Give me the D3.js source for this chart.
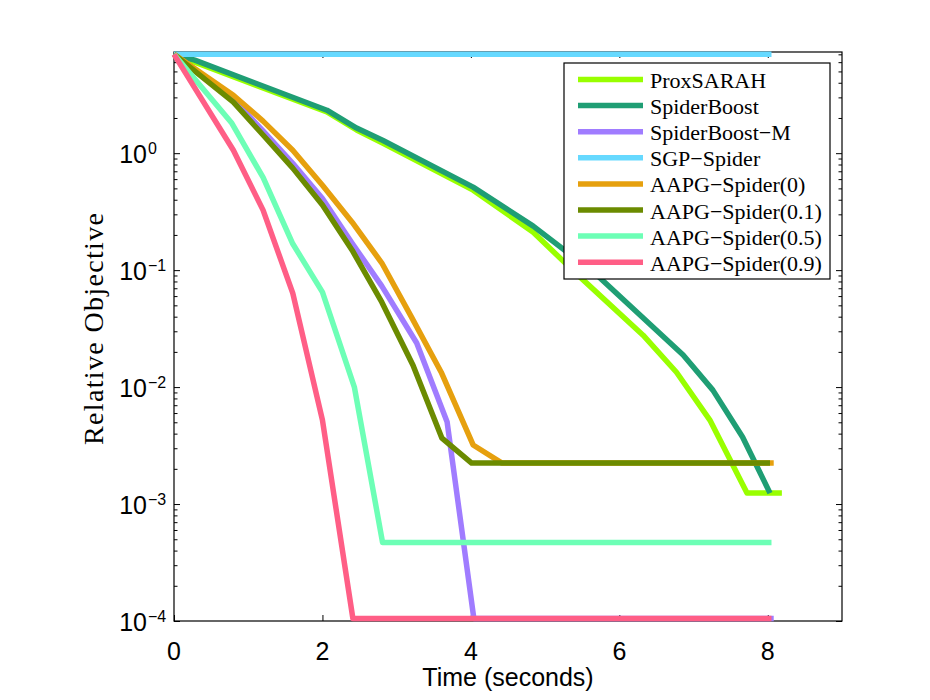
<!DOCTYPE html>
<html>
<head>
<meta charset="utf-8">
<script src="https://cdn.jsdelivr.net/npm/d3@7"></script>
<style>
  body { margin:0; background:#fff; }
  svg { display:block; }
</style>
</head>
<body>
<div class="canvas"></div>
<script>

// data: [time (s), relative objective]
var proxSARAH    = [[0,7.0],[0.28,6.0],[2.06,2.25],[2.46,1.58],[2.81,1.22],[4.03,0.483],[4.84,0.211],[5.37,0.1],[6.32,0.0278],[6.77,0.0134],[7.22,0.00522],[7.72,0.00124],[8.19,0.00124]];
var spiderBoost  = [[0,7.0],[0.28,6.24],[2.06,2.33],[2.46,1.64],[2.81,1.29],[4.03,0.512],[4.84,0.238],[5.70,0.0906],[6.86,0.0188],[7.26,0.00942],[7.66,0.00374],[8.03,0.00124]];
var spiderBoostM = [[0,7.0],[0.8,2.9],[1.2,1.55],[1.6,0.82],[2.0,0.41],[2.4,0.17],[2.8,0.073],[3.27,0.0238],[3.68,0.00502],[4.04,1.05e-4],[8.08,1.05e-4]];
var sgpSpider    = [[0,7.0],[8.05,7.0]];
var aapg0        = [[0,7.0],[0.8,3.13],[1.2,1.88],[1.6,1.06],[2.0,0.532],[2.4,0.257],[2.8,0.115],[3.2,0.0397],[3.6,0.0134],[4.03,0.0032],[4.42,0.00224],[8.08,0.00224]];
var aapg01       = [[0,7.0],[0.8,2.73],[1.2,1.43],[1.6,0.745],[2.0,0.36],[2.4,0.148],[2.8,0.0532],[3.22,0.0154],[3.61,0.00366],[4.01,0.00224],[8.03,0.00224]];
var aapg05       = [[0,7.0],[0.78,1.80],[1.2,0.62],[1.6,0.168],[2.0,0.0649],[2.43,0.01],[2.81,4.7e-4],[8.05,4.7e-4]];
var aapg09       = [[0,7.0],[0.8,1.06],[1.2,0.326],[1.6,0.0636],[2.0,0.00522],[2.41,1.05e-4],[8.05,1.05e-4]];

var seriesNames = ['ProxSARAH','SpiderBoost','SpiderBoost\u2212M','SGP\u2212Spider',
                   'AAPG\u2212Spider(0)','AAPG\u2212Spider(0.1)','AAPG\u2212Spider(0.5)','AAPG\u2212Spider(0.9)'];
var seriesData  = [proxSARAH, spiderBoost, spiderBoostM, sgpSpider, aapg0, aapg01, aapg05, aapg09];
var colors      = ['#99ff00','#1f9e74','#a07cff','#66d9ff','#e6a00e','#6b8b00','#6dffb6','#ff5e86'];

var xTicks = [0,2,4,6,8];
var yTicks = [1e-4,1e-3,1e-2,1e-1,1e0];
var yExps  = ['\u22124','\u22123','\u22122','\u22121','0'];


// d3

var W = 930, H = 700,
    L = 174, R = 842, T = 52, B = 621;

var svg = d3.select('.canvas')
    .append('svg')
    .attr('width',W)
    .attr('height',H);

svg.append('rect').attr('width',W).attr('height',H).attr('fill','#fff');

var x = d3.scaleLinear().domain([0,9]).range([L,R]);
var y = d3.scaleLog().domain([1e-4,7.33]).range([B,T]);

// minor log ticks
var minors = [];
for (var e=-4; e<=0; e++){
    for (var k=2; k<=9; k++){
        var v = k*Math.pow(10,e);
        if (v < 7.33) minors.push(v);
    }
}

function yAxisAt(px, fn, vals, size){
    svg.append('g')
        .attr('transform','translate('+px+',0)')
        .call(fn(y).tickValues(vals).tickSize(size).tickFormat(''))
        .call(function(g){ g.select('.domain').remove(); })
        .selectAll('line').attr('stroke','#000');
}
yAxisAt(L, d3.axisLeft, yTicks, -6);
yAxisAt(L, d3.axisLeft, minors, -3.5);
yAxisAt(R, d3.axisRight, yTicks, -6);
yAxisAt(R, d3.axisRight, minors, -3.5);

function xAxisAt(py, fn){
    svg.append('g')
        .attr('transform','translate(0,'+py+')')
        .call(fn(x).tickValues(xTicks).tickSize(-6).tickFormat(''))
        .call(function(g){ g.select('.domain').remove(); })
        .selectAll('line').attr('stroke','#000');
}
xAxisAt(B, d3.axisBottom);
xAxisAt(T, d3.axisTop);

// frame
svg.append('rect')
    .attr('x',L).attr('y',T)
    .attr('width',R-L).attr('height',B-T)
    .attr('fill','none')
    .attr('stroke','#000')
    .attr('stroke-width',1.2);

// x tick labels
svg.selectAll('.xlab')
    .data(xTicks)
    .enter().append('text')
    .attr('class','xlab')
    .attr('x',function(d){ return x(d); })
    .attr('y',B+39)
    .attr('text-anchor','middle')
    .attr('font-family','Liberation Sans, Arial, sans-serif')
    .attr('font-size','25px')
    .text(function(d){ return d; });

// y tick labels with exponents
var ylab = svg.selectAll('.ylab')
    .data(yTicks)
    .enter().append('g')
    .attr('class','ylab')
    .attr('transform',function(d){ return 'translate(0,'+y(d)+')'; })
    .attr('font-family','Liberation Sans, Arial, sans-serif');

ylab.append('text')
    .attr('x',147)
    .attr('y',10)
    .attr('text-anchor','end')
    .attr('font-size','25px')
    .text('10');

ylab.append('text')
    .attr('x',148)
    .attr('y',1)
    .attr('font-size','16px')
    .text(function(d,i){ return yExps[i]; });

// axis titles
svg.append('text')
    .attr('x',(L+R)/2)
    .attr('y',686)
    .attr('text-anchor','middle')
    .attr('font-family','Liberation Sans, Arial, sans-serif')
    .attr('font-size','25px')
    .text('Time (seconds)');

svg.append('text')
    .attr('transform','translate(103,329) rotate(-90)')
    .attr('text-anchor','middle')
    .attr('font-family','Liberation Serif, Times New Roman, serif')
    .attr('font-size','28px')
    .attr('textLength',232)
    .attr('lengthAdjust','spacing')
    .text('Relative Objective');

// lines
var line = d3.line()
    .x(function(d){ return x(d[0]); })
    .y(function(d){ return y(d[1]); });

svg.selectAll('.series')
    .data(seriesData)
    .enter().append('path')
    .attr('class','series')
    .attr('d',line)
    .attr('fill','none')
    .attr('stroke',function(d,i){ return colors[i]; })
    .attr('stroke-width',5.5)
    .attr('stroke-linejoin','round');

// legend
var leg = svg.append('g');
leg.append('rect')
    .attr('x',564).attr('y',63)
    .attr('width',266).attr('height',216)
    .attr('fill','#fff')
    .attr('stroke','#000')
    .attr('stroke-width',1.2);

var row = leg.selectAll('.row')
    .data(seriesNames)
    .enter().append('g')
    .attr('class','row')
    .attr('transform',function(d,i){ return 'translate(0,'+(79.5+i*26.1)+')'; });

row.append('line')
    .attr('x1',578).attr('x2',643)
    .attr('stroke',function(d,i){ return colors[i]; })
    .attr('stroke-width',5.5);

row.append('text')
    .attr('x',650)
    .attr('y',8.5)
    .attr('font-family','Liberation Serif, Times New Roman, serif')
    .attr('font-size','22px')
    .text(function(d){ return d; });

</script>
</body>
</html>
